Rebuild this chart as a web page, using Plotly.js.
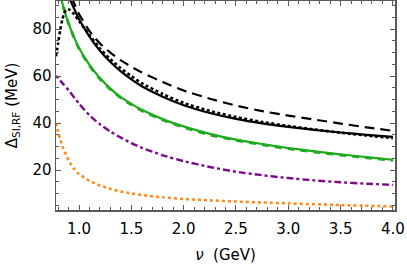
<!DOCTYPE html>
<html><head><meta charset="utf-8">
<script src="https://cdn.plot.ly/plotly-3.0.1.min.js"></script>
<style>html,body{margin:0;padding:0;background:#fff}#plot{width:407px;height:266px}</style>
</head><body><div id="plot"></div>
<script>
// Black solid
const nuBlackSolid = [0.90,1.0,1.1,1.2,1.3,1.4,1.5,1.6,1.8,2.0,2.25,2.5,2.75,3.0,3.25,3.5,3.75,4.0];
const vBlackSolid  = [94,84.3,76.8,70.8,66.0,62.0,58.6,55.7,51.2,47.6,44.3,41.8,39.9,38.4,37.1,36.0,35.0,34.1];
// Black dotted
const nuBlackDot = [0.78,0.80,0.82,0.84,0.86,0.88,0.91,0.95,1.0,1.1,1.2,1.3,1.4,1.5,1.6,1.8,2.0,2.25,2.5,2.75,3.0,3.25,3.5,3.75,4.0];
const vBlackDot  = [68.5,74,79.5,84,87,88.3,88.3,86.5,83.5,77.5,71.8,67.2,63.4,60.0,57.0,52.4,48.6,45.2,42.6,40.5,38.8,37.3,35.9,34.7,33.6];
// Black dashed
const nuBlackDash = [0.93,1.0,1.1,1.2,1.3,1.4,1.5,1.6,1.8,2.0,2.25,2.5,2.75,3.0,3.25,3.5,3.75,4.0];
const vBlackDash  = [93.5,86.5,79.2,73.9,70.0,66.7,64.0,61.6,57.5,53.9,50.4,47.5,45.1,43.2,41.5,39.8,38.2,36.7];
// Green solid
const nuGreenSolid = [0.82,0.85,0.875,0.9,0.95,1.0,1.1,1.2,1.3,1.4,1.5,1.6,1.8,2.0,2.25,2.5,2.75,3.0,3.25,3.5,3.75,4.0];
const vGreenSolid  = [95,89.5,85.8,82.5,76.8,72.0,64.8,59.2,54.7,51.1,48.2,45.7,41.7,38.6,35.4,33.0,31.1,29.4,28.0,26.7,25.5,24.4];
// Green dashed
const nuGreenDash = [0.822,0.85,0.875,0.9,0.95,1.0,1.1,1.2,1.3,1.4,1.5,1.6,1.8,2.0,2.25,2.5,2.75,3.0,3.25,3.5,3.75,4.0];
const vGreenDash  = [95,89.6,85.8,82.4,76.6,71.7,64.4,58.8,54.3,50.7,47.8,45.3,41.3,38.2,35.0,32.7,30.8,29.1,27.7,26.4,25.2,24.1];
// Purple dot-dashed
const nuPurple = [0.78,0.85,0.9,1.0,1.1,1.2,1.3,1.4,1.5,1.6,1.8,2.0,2.25,2.5,2.75,3.0,3.25,3.5,3.75,4.0];
const vPurple  = [60.2,56.6,54.0,48.3,43.3,39.5,36.4,33.8,31.5,29.5,26.3,23.8,21.3,19.3,17.8,16.6,15.6,14.8,14.2,13.7];
// Orange dotted
const nuOrange = [0.78,0.80,0.82,0.85,0.9,0.95,1.0,1.1,1.2,1.3,1.4,1.5,1.6,1.8,2.0,2.25,2.5,2.75,3.0,3.5,4.0];
const vOrange  = [40,36.3,33.0,29.3,24.2,20.6,18.3,15.4,13.4,12.0,10.9,10.1,9.4,8.4,7.7,7.1,6.6,6.2,5.8,5.1,4.5];

const xTickVals = [1.0,1.5,2.0,2.5,3.0,3.5,4.0];
const xTickText = ['1.0','1.5','2.0','2.5','3.0','3.5','4.0'];
const yTickVals = [20,40,60,80];
const yTickText = ['20','40','60','80'];

const black = '#000000', green = '#1fab1f', purple = '#7d0a8c', orange = '#ff8a17';
function tr(x,y,color,dash,width){
  return {x:x,y:y,type:'scatter',mode:'lines',line:{color:color,dash:dash,width:width,shape:'spline',smoothing:0.6},hoverinfo:'skip',cliponaxis:true};
}
const data = [
  tr(nuOrange,vOrange,orange,'3px,3px',2.6),
  tr(nuPurple,vPurple,purple,'3px,3px,7px,3px',2.4),
  tr(nuGreenDash,vGreenDash,green,'7px,6px',2.8),
  tr(nuGreenSolid,vGreenSolid,green,'solid',2.2),
  tr(nuBlackDash,vBlackDash,black,'10px,6px',2.2),
  tr(nuBlackDot,vBlackDot,black,'3px,2.5px',2.6),
  tr(nuBlackSolid,vBlackSolid,black,'solid',2.2)
];
const fontF = 'DejaVu Sans, Liberation Sans, sans-serif';
const axisCommon = {
  showgrid:false, zeroline:false, showline:true, linecolor:'#5a5a5a', linewidth:1.5,
  mirror:'allticks', ticks:'inside', ticklen:5, tickwidth:1, tickcolor:'#5a5a5a',
  tickfont:{family:fontF,size:15,color:'#000'}, automargin:false
};
const layout = {
  width:407, height:266, showlegend:false,
  paper_bgcolor:'#fff', plot_bgcolor:'#fff',
  margin:{l:56,r:12,t:1,b:56},
  xaxis:Object.assign({}, axisCommon, {
    range:[0.78,4.02], tickvals:xTickVals, ticktext:xTickText,
    minor:{dtick:0.1, tick0:0, ticks:'inside', ticklen:3, tickcolor:'#5a5a5a', tickwidth:1},
    ticklabelstandoff:4,
    title:{text:'<i>ν</i>  (GeV)', font:{family:fontF,size:15,color:'#000'}, standoff:13}
  }),
  yaxis:Object.assign({}, axisCommon, {
    range:[3,92], tickvals:yTickVals, ticktext:yTickText,
    minor:{dtick:5, tick0:0, ticks:'inside', ticklen:3, tickcolor:'#5a5a5a', tickwidth:1},
    ticklabelstandoff:0,
    title:{text:'Δ<sub>SI,RF</sub> (MeV)', font:{family:fontF,size:15,color:'#000'}, standoff:11}
  })
};
Plotly.newPlot('plot', data, layout, {staticPlot:true, displayModeBar:false});
</script></body></html>
